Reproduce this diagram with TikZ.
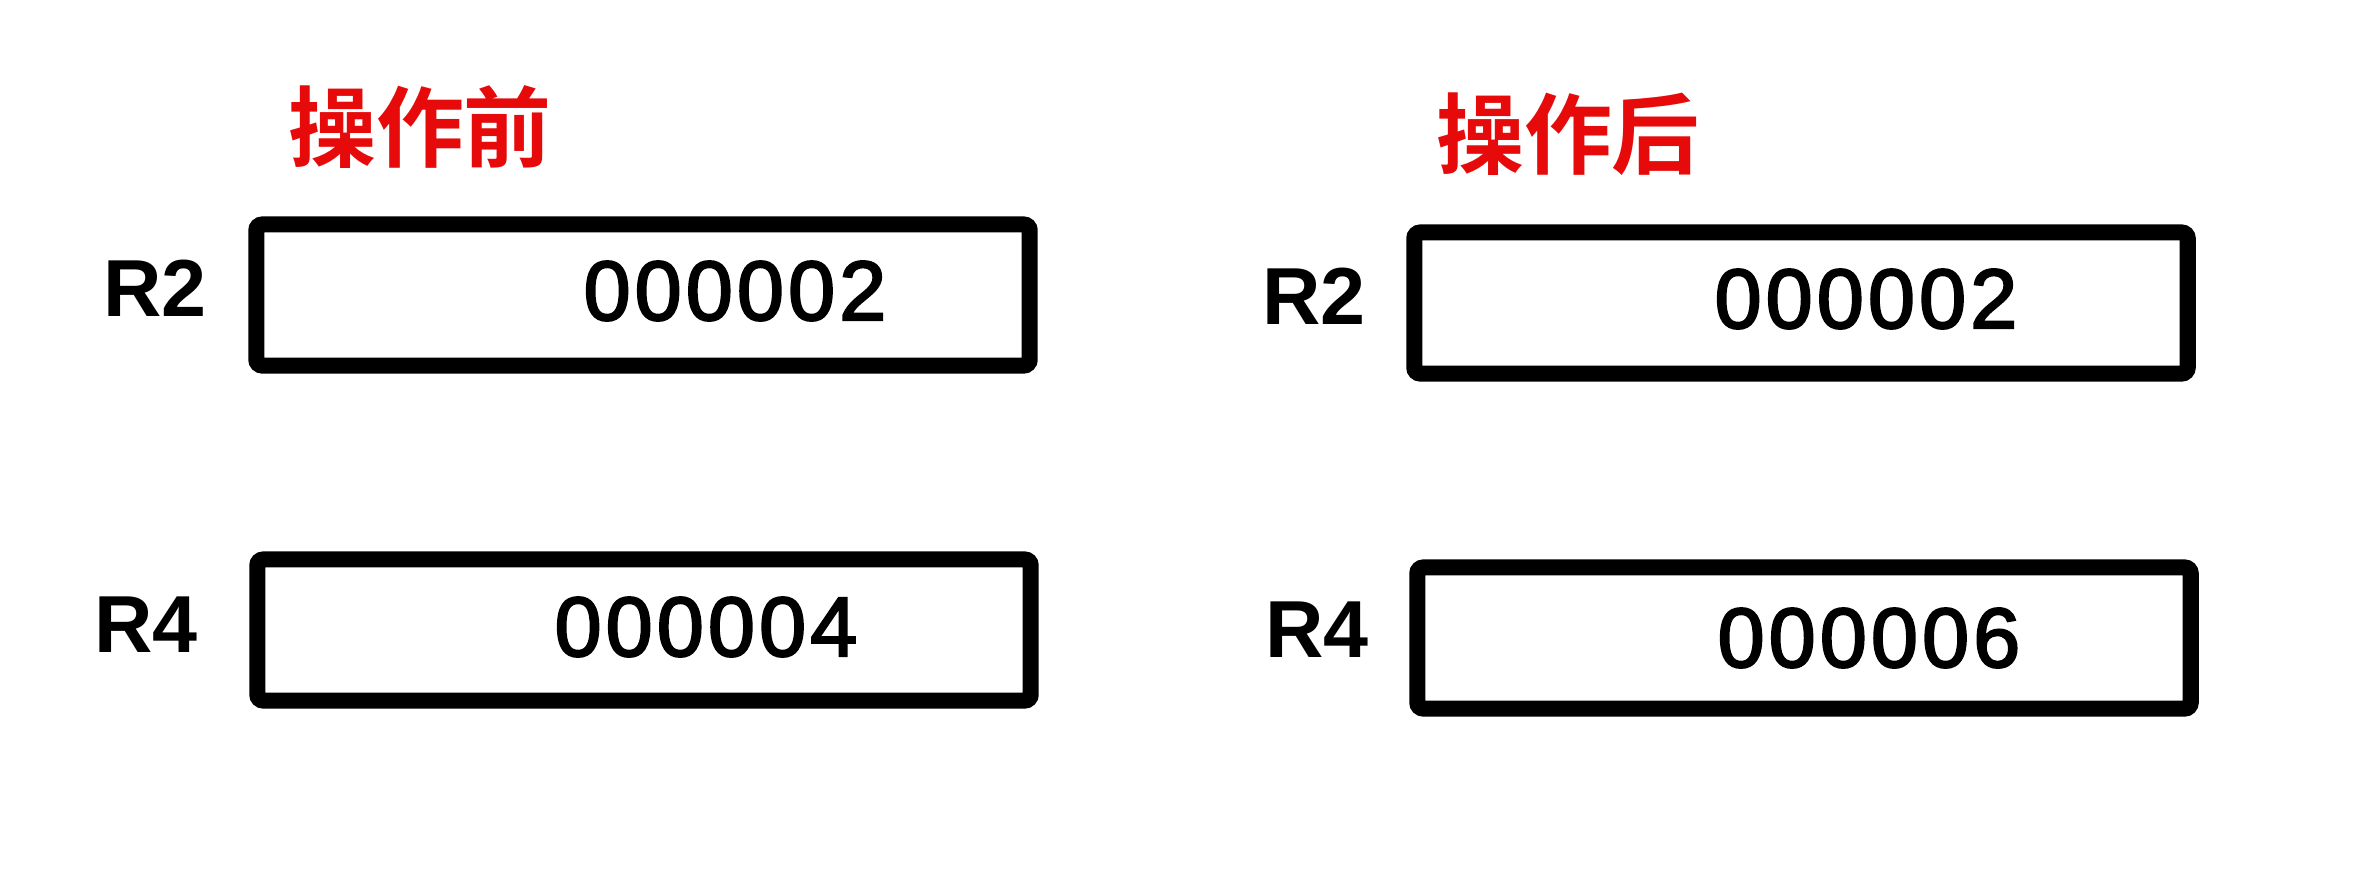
\documentclass[tikz,border=0pt]{standalone}
\usepackage{fontspec}
\setmainfont{Liberation Sans}
\newfontfamily\digits[LetterSpace=5, FakeBold=2.5]{Liberation Sans}
\newfontfamily\cjk{Noto Sans CJK SC Bold}
\definecolor{titlered}{RGB}{230,10,10}

\tikzset{
    reg/.style={draw, line width=0.16cm, rounded corners=0.06cm,
                minimum width=7.73cm, minimum height=1.41cm},
    val/.style={font=\digits\fontsize{24}{28}\selectfont, inner sep=0pt},
    lab/.style={font=\fontsize{23}{28}\selectfont\bfseries, inner sep=0pt},
    title/.style={font=\cjk\fontsize{25}{30}\selectfont, text=titlered, inner sep=0pt}
}

\begin{document}
\begin{tikzpicture}[x=0.01cm, y=-0.01cm]
    \useasboundingbox (0,0) rectangle (2372,890);

    % before
    \node[title] (before) at (420,127) {操作前};

    \node[reg] (r2a) at (643,295) {};
    \node[reg] (r4a) at (644,630) {};
    \node[lab] (r2alab) at (155,288) {R2};
    \node[lab] (r4alab) at (146,625) {R4};
    \node[val] (r2aval) at (735,291) {000002};
    \node[val] (r4aval) at (706,627) {000004};

    % after
    \node[title] (after) at (1568,134) {操作后};

    \node[reg] (r2b) at (1801,303) {};
    \node[reg] (r4b) at (1804,638) {};
    \node[lab] (r2blab) at (1314,296) {R2};
    \node[lab] (r4blab) at (1317,630) {R4};
    \node[val] (r2bval) at (1866,299) {000002};
    \node[val] (r4bval) at (1869,638) {000006};
\end{tikzpicture}
\end{document}
